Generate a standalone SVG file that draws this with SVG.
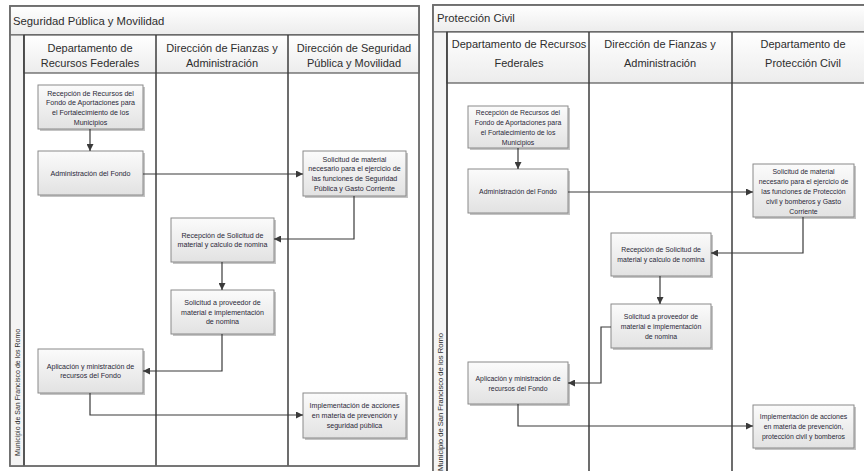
<svg xmlns="http://www.w3.org/2000/svg" width="864" height="471" viewBox="0 0 864 471">
<defs>
<linearGradient id="gBox" x1="0" y1="0" x2="0" y2="1"><stop offset="0" stop-color="#fbfbfb"/><stop offset="1" stop-color="#e2e2e2"/></linearGradient>
<linearGradient id="gHead" x1="0" y1="0" x2="0" y2="1"><stop offset="0" stop-color="#ffffff"/><stop offset="1" stop-color="#ececec"/></linearGradient>
<marker id="ah" viewBox="0 0 10 10" refX="10" refY="5" markerWidth="7" markerHeight="7" markerUnits="userSpaceOnUse" orient="auto"><path d="M0,0 L10,5 L0,10 z" fill="#3a3a3a"/></marker>
<style>
.frame{fill:#ffffff;stroke:#6e6e6e;stroke-width:1.5}
.title{fill:url(#gHead);stroke:#6e6e6e;stroke-width:1.5}
.head{fill:url(#gHead);stroke:#555;stroke-width:1.2}
.lane{stroke:#3c3c3c;stroke-width:1.5;fill:none}
.strip{fill:#f4f4f4;stroke:#6e6e6e;stroke-width:1.2}
.box{fill:url(#gBox);stroke:#8a8a8a;stroke-width:1}
.shadow{fill:#c4c4c4}
.t{font-family:"Liberation Sans",Arial,sans-serif;fill:#2d2d2d}
.tt{font-size:11.3px}
.th{font-size:11px;text-anchor:middle}
.tb{font-size:7.1px;text-anchor:middle;fill:#2a2838}
.tv{font-size:7px}
.c{fill:none;stroke:#3a3a3a;stroke-width:1.2;marker-end:url(#ah)}
</style>
</defs>

<!-- LEFT PANEL -->
<g id="panel-left">
<rect class="frame" x="10" y="6" width="409" height="460"/>
<rect class="title" x="10" y="6" width="409" height="29"/>
<text class="t tt" x="13" y="25">Seguridad Pública y Movilidad</text>
<rect class="strip" x="10" y="35" width="14" height="431"/>
<rect class="head" x="24" y="35" width="395" height="38"/>
<line class="lane" x1="24" y1="35" x2="24" y2="466"/>
<line class="lane" x1="156" y1="35" x2="156" y2="466"/>
<line class="lane" x1="288" y1="35" x2="288" y2="466"/>
<rect x="10" y="6" width="409" height="460" fill="none" stroke="#6e6e6e" stroke-width="1.5"/>
<text class="t th" x="90" y="52">Departamento de</text>
<text class="t th" x="90" y="67">Recursos Federales</text>
<text class="t th" x="222" y="52">Dirección de Fianzas y</text>
<text class="t th" x="222" y="67">Administración</text>
<text class="t th" x="354" y="52">Dirección de Seguridad</text>
<text class="t th" x="354" y="67">Pública y Movilidad</text>
<text class="t tv" transform="translate(19.5,456) rotate(-90)">Municipio de San Francisco de los Romo</text>
</g>

<!-- RIGHT PANEL -->
<g id="panel-right">
<rect class="frame" x="433" y="5" width="440" height="475"/>
<rect class="title" x="433" y="5" width="440" height="27"/>
<text class="t tt" x="437" y="22">Protección Civil</text>
<rect class="strip" x="433" y="32" width="14" height="448"/>
<rect class="head" x="447" y="32" width="426" height="51"/>
<line class="lane" x1="447" y1="32" x2="447" y2="480"/>
<line class="lane" x1="589" y1="32" x2="589" y2="480"/>
<line class="lane" x1="732" y1="32" x2="732" y2="480"/>
<rect x="433" y="5" width="440" height="475" fill="none" stroke="#6e6e6e" stroke-width="1.5"/>
<text class="t th" x="519" y="48">Departamento de Recursos</text>
<text class="t th" x="519" y="67">Federales</text>
<text class="t th" x="660" y="48">Dirección de Fianzas y</text>
<text class="t th" x="660" y="67">Administración</text>
<text class="t th" x="803" y="48">Departamento de</text>
<text class="t th" x="803" y="67">Protección Civil</text>
<text class="t tv" style="font-size:7.6px" text-anchor="end" transform="translate(443,333) rotate(-90)">Municipio de San Francisco de los Romo</text>
</g>

<!-- LEFT NODES -->
<g id="L1"><rect class="shadow" x="40" y="87" width="105" height="44"/><rect class="box" x="38" y="85" width="105" height="44"/>
<text class="t tb"><tspan x="90.5" y="95.5">Recepción de Recursos del</tspan><tspan x="90.5" y="105.2">Fondo de Aportaciones para</tspan><tspan x="90.5" y="114.9">el Fortalecimiento de los</tspan><tspan x="90.5" y="124.6">Municipios</tspan></text></g>
<g id="L2"><rect class="shadow" x="40" y="153" width="105" height="44"/><rect class="box" x="38" y="151" width="105" height="44"/>
<text class="t tb" x="90.5" y="175.5">Administración del Fondo</text></g>
<g id="L3"><rect class="shadow" x="305" y="153" width="103" height="45"/><rect class="box" x="303" y="151" width="103" height="45"/>
<text class="t tb"><tspan x="354.5" y="161.5">Solicitud de material</tspan><tspan x="354.5" y="171.2">necesario para el ejercicio de</tspan><tspan x="354.5" y="180.9">las funciones de Seguridad</tspan><tspan x="354.5" y="190.6">Pública y Gasto Corriente</tspan></text></g>
<g id="L4"><rect class="shadow" x="173" y="220" width="103" height="44"/><rect class="box" x="171" y="218" width="103" height="44"/>
<text class="t tb"><tspan x="222.5" y="237.7">Recepción de Solicitud de</tspan><tspan x="222.5" y="247.4">material y calculo de nomina</tspan></text></g>
<g id="L5"><rect class="shadow" x="173" y="292" width="103" height="44"/><rect class="box" x="171" y="290" width="103" height="44"/>
<text class="t tb"><tspan x="222.5" y="304.8">Solicitud a proveedor de</tspan><tspan x="222.5" y="314.5">material e implementación</tspan><tspan x="222.5" y="324.2">de nomina</tspan></text></g>
<g id="L6"><rect class="shadow" x="40" y="351" width="105" height="44"/><rect class="box" x="38" y="349" width="105" height="44"/>
<text class="t tb"><tspan x="90.5" y="368.7">Aplicación y ministración de</tspan><tspan x="90.5" y="378.4">recursos del Fondo</tspan></text></g>
<g id="L7"><rect class="shadow" x="305" y="395" width="103" height="45"/><rect class="box" x="303" y="393" width="103" height="45"/>
<text class="t tb"><tspan x="354.5" y="408.3">Implementación de acciones</tspan><tspan x="354.5" y="418">en materia de prevención y</tspan><tspan x="354.5" y="427.7">seguridad pública</tspan></text></g>

<!-- RIGHT NODES -->
<g id="R1"><rect class="shadow" x="470" y="108" width="100" height="42"/><rect class="box" x="468" y="106" width="100" height="42"/>
<text class="t tb" style="font-size:6.9px"><tspan x="518" y="114.5">Recepción de Recursos del</tspan><tspan x="518" y="124.5">Fondo de Aportaciones para</tspan><tspan x="518" y="134.5">el Fortalecimiento de los</tspan><tspan x="518" y="144.5">Municipios</tspan></text></g>
<g id="R2"><rect class="shadow" x="470" y="171" width="100" height="44"/><rect class="box" x="468" y="169" width="100" height="44"/>
<text class="t tb" style="font-size:6.9px" x="518" y="193.5">Administración del Fondo</text></g>
<g id="R3"><rect class="shadow" x="755" y="166" width="101" height="53"/><rect class="box" x="753" y="164" width="101" height="53"/>
<text class="t tb" style="font-size:6.9px"><tspan x="803.5" y="173.5">Solicitud de material</tspan><tspan x="803.5" y="183.5">necesario para el ejercicio de</tspan><tspan x="803.5" y="193.5">las funciones de Protección</tspan><tspan x="803.5" y="203.5">civil y bomberos y Gasto</tspan><tspan x="803.5" y="213.5">Corriente</tspan></text></g>
<g id="R4"><rect class="shadow" x="613" y="235" width="100" height="43"/><rect class="box" x="611" y="233" width="100" height="43"/>
<text class="t tb" style="font-size:6.9px"><tspan x="661" y="252">Recepción de Solicitud de</tspan><tspan x="661" y="262">material y calculo de nomina</tspan></text></g>
<g id="R5"><rect class="shadow" x="613" y="306" width="100" height="44"/><rect class="box" x="611" y="304" width="100" height="44"/>
<text class="t tb" style="font-size:6.9px"><tspan x="661" y="318.5">Solicitud a proveedor de</tspan><tspan x="661" y="328.5">material e implementación</tspan><tspan x="661" y="338.5">de nomina</tspan></text></g>
<g id="R6"><rect class="shadow" x="470" y="364" width="100" height="42"/><rect class="box" x="468" y="362" width="100" height="42"/>
<text class="t tb" style="font-size:6.9px"><tspan x="518" y="380.5">Aplicación y ministración de</tspan><tspan x="518" y="390.5">recursos del Fondo</tspan></text></g>
<g id="R7"><rect class="shadow" x="755" y="407" width="101" height="43"/><rect class="box" x="753" y="405" width="101" height="43"/>
<text class="t tb" style="font-size:6.9px"><tspan x="803.5" y="419">Implementación de acciones</tspan><tspan x="803.5" y="429">en materia de prevención,</tspan><tspan x="803.5" y="439">protección civil y bomberos</tspan></text></g>

<!-- CONNECTORS -->
<g id="connectors">
<path class="c" d="M90,129 L90,151"/>
<path class="c" d="M143,174 L303,174"/>
<path class="c" d="M354,196 L354,239 L274,239"/>
<path class="c" d="M222,262 L222,290"/>
<path class="c" d="M222,334 L222,371 L143,371"/>
<path class="c" d="M90,393 L90,415 L303,415"/>
<path class="c" d="M518,148 L518,169"/>
<path class="c" d="M568,192 L753,192"/>
<path class="c" d="M803,217 L803,253 L711,253"/>
<path class="c" d="M660,276 L660,304"/>
<path class="c" d="M611,327 L601,327 L601,383 L568,383"/>
<path class="c" d="M518,404 L518,426 L753,426"/>
</g>
</svg>
